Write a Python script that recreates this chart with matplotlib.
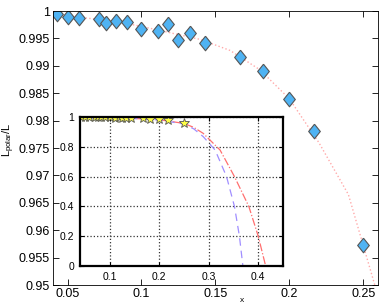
import matplotlib
matplotlib.use("Agg")
import matplotlib.pyplot as plt
from matplotlib.ticker import FuncFormatter

plt.rcParams['font.family'] = ['Liberation Sans', 'DejaVu Sans']
plt.rcParams['mathtext.fontset'] = 'custom'
plt.rcParams['mathtext.rm'] = 'Liberation Sans'
plt.rcParams['mathtext.it'] = 'Liberation Sans'

# main data (diamonds) and inset stars share the same x values
x_pts = [0.043, 0.050, 0.058, 0.071, 0.076, 0.083, 0.090, 0.100, 0.111,
         0.118, 0.125, 0.133, 0.143, 0.167, 0.182, 0.200, 0.217, 0.250]
y_pts = [0.99945, 0.9989, 0.9987, 0.9985, 0.9979, 0.9982, 0.9980, 0.9968, 0.9964,
         0.9976, 0.9948, 0.9959, 0.9942, 0.99155, 0.9890, 0.9839, 0.9781, 0.9573]

# pink dotted curve on main axes
fit_x = [0.04, 0.06, 0.08, 0.10, 0.12, 0.14, 0.16, 0.18, 0.20, 0.22, 0.24, 0.26]
fit_y = [0.9995, 0.9988, 0.9982, 0.9972, 0.9960, 0.9948, 0.9928, 0.9893,
         0.9840, 0.9760, 0.9665, 0.9480]

# inset curves
red_x = [0.04, 0.10, 0.15, 0.20, 0.25, 0.27, 0.289, 0.323, 0.352, 0.381, 0.40, 0.415]
red_y = [1.0, 0.997, 0.990, 0.982, 0.957, 0.930, 0.890, 0.778, 0.600, 0.400, 0.200, 0.0]
blue_x = [0.04, 0.10, 0.15, 0.20, 0.25, 0.27, 0.289, 0.313, 0.336, 0.352, 0.362, 0.369]
blue_y = [1.0, 0.997, 0.990, 0.980, 0.953, 0.920, 0.868, 0.778, 0.600, 0.400, 0.200, 0.0]

main_xticks = [0.05, 0.10, 0.15, 0.20, 0.25]
main_yticks = [0.95, 0.955, 0.96, 0.965, 0.97, 0.975, 0.98, 0.985, 0.99, 0.995, 1.0]
inset_xticks = [0.1, 0.2, 0.3, 0.4]
inset_yticks = [0, 0.2, 0.4, 0.6, 0.8, 1.0]

fmt = FuncFormatter(lambda v, p: '%g' % round(v, 6))

fig = plt.figure(figsize=(3.82, 3.06), dpi=100)
ax = fig.add_axes([0.138, 0.0686, 0.8515, 0.8954])
ax.plot(fit_x, fit_y, linestyle=':', color='#ffaaaa', linewidth=1.0)
diamond = [(0, 1), (0.8, 0), (0, -1), (-0.8, 0), (0, 1)]
ax.plot(x_pts, y_pts, linestyle='none', marker=diamond, markersize=10.5,
        markerfacecolor='#4fb3f3', markeredgecolor='#555555', markeredgewidth=0.8)
ax.set_xlim(0.04, 0.26)
ax.set_ylim(0.95, 1.0)
ax.set_xticks(main_xticks)
ax.set_yticks(main_yticks)
ax.xaxis.set_major_formatter(fmt)
ax.yaxis.set_major_formatter(fmt)
ax.tick_params(direction='in', top=True, right=True, labelsize=9, length=4,
               width=0.6, pad=2)
for s in ax.spines.values():
    s.set_linewidth(0.6)
ax.set_ylabel(r'$L_{polar}/L$', fontsize=8)
ax.yaxis.set_label_coords(-0.11, 0.53)
fig.text(241.7 / 382, 1 - 300 / 306, 'x', fontsize=6, ha='center', va='center')

ins = fig.add_axes([0.2094, 0.1307, 0.5314, 0.4869])
ins.plot(red_x, red_y, linestyle='-.', color='#ff6f6f', linewidth=0.9)
ins.plot(blue_x, blue_y, linestyle=(0, (6, 4)), color='#a08eff', linewidth=0.9)
ins.plot(x_pts, y_pts, linestyle='none', marker='*', markersize=7,
         markerfacecolor='#ffff44', markeredgecolor='#555555', markeredgewidth=0.6)
ins.set_xlim(0.04, 0.45)
ins.set_ylim(0, 1.0)
ins.set_xticks(inset_xticks)
ins.set_yticks(inset_yticks)
ins.xaxis.set_major_formatter(fmt)
ins.yaxis.set_major_formatter(fmt)
ins.grid(True, linestyle=':', color='#333333', linewidth=0.9)
ins.tick_params(direction='in', top=True, right=True, labelsize=7.5, length=3,
                width=0.8, pad=4)
for s in ins.spines.values():
    s.set_linewidth(1.6)

fig.savefig('out.png', dpi=100)
